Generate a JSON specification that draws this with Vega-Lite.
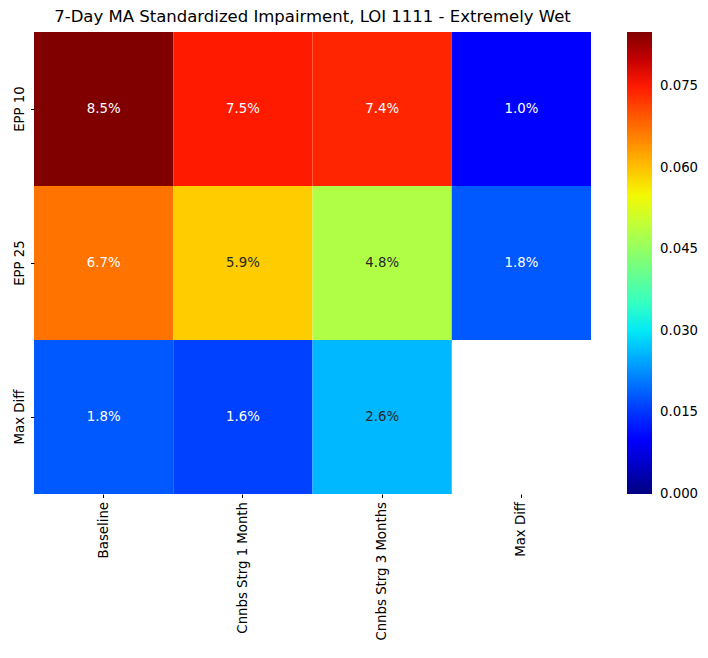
{
  "$schema": "https://vega.github.io/schema/vega-lite/v6.json",
  "width": 557,
  "height": 462,
  "autosize": {"type": "none"},
  "padding": {"left": 34, "top": 32, "right": 117, "bottom": 164},
  "background": "white",
  "title": {
    "text": "7-Day MA Standardized Impairment, LOI 1111 - Extremely Wet",
    "font": "DejaVu Sans",
    "fontSize": 16.5,
    "fontWeight": "normal",
    "color": "black",
    "anchor": "middle",
    "offset": 7
  },
  "data": {
    "values": [
      {"row": "EPP 10", "col": "Baseline", "v": 0.085},
      {"row": "EPP 10", "col": "Cnnbs Strg 1 Month", "v": 0.075},
      {"row": "EPP 10", "col": "Cnnbs Strg 3 Months", "v": 0.074},
      {"row": "EPP 10", "col": "Max Diff", "v": 0.010},
      {"row": "EPP 25", "col": "Baseline", "v": 0.067},
      {"row": "EPP 25", "col": "Cnnbs Strg 1 Month", "v": 0.059},
      {"row": "EPP 25", "col": "Cnnbs Strg 3 Months", "v": 0.048},
      {"row": "EPP 25", "col": "Max Diff", "v": 0.018},
      {"row": "Max Diff", "col": "Baseline", "v": 0.018},
      {"row": "Max Diff", "col": "Cnnbs Strg 1 Month", "v": 0.016},
      {"row": "Max Diff", "col": "Cnnbs Strg 3 Months", "v": 0.026}
    ]
  },
  "encoding": {
    "x": {
      "field": "col",
      "type": "nominal",
      "sort": ["Baseline", "Cnnbs Strg 1 Month", "Cnnbs Strg 3 Months", "Max Diff"],
      "scale": {"domain": ["Baseline", "Cnnbs Strg 1 Month", "Cnnbs Strg 3 Months", "Max Diff"], "paddingInner": 0, "paddingOuter": 0},
      "axis": {"title": null, "labelAngle": -90, "domain": false, "tickColor": "black", "tickSize": 3.5, "labelPadding": 4}
    },
    "y": {
      "field": "row",
      "type": "nominal",
      "scale": {"domain": ["EPP 10", "EPP 25", "Max Diff"], "paddingInner": 0, "paddingOuter": 0},
      "axis": {"title": null, "labelAngle": -90, "labelAlign": "center", "labelBaseline": "bottom", "domain": false, "tickColor": "black", "tickSize": 3.5, "labelPadding": 4}
    }
  },
  "layer": [
    {
      "mark": {"type": "rect"},
      "encoding": {
        "color": {
          "field": "v",
          "type": "quantitative",
          "scale": {
            "type": "linear",
            "domain": [0, 0.00935, 0.010625, 0.0289, 0.02975, 0.031875, 0.0544, 0.05525, 0.0561, 0.07565, 0.07735, 0.085],
            "range": ["#000080", "#0000ff", "#0000ff", "#00dbff", "#00e6f7", "#15ffe2", "#eeff08", "#f7f500", "#ffec00", "#ff1300", "#e80000", "#800000"],
            "interpolate": "rgb"
          },
          "legend": {
            "title": null,
            "direction": "vertical",
            "gradientLength": 462,
            "gradientThickness": 25,
            "gradientStrokeWidth": 0,
            "values": [0, 0.015, 0.03, 0.045, 0.06, 0.075],
            "format": ".3f",
            "offset": 36,
            "labelFont": "DejaVu Sans",
            "labelFontSize": 13.3,
            "labelColor": "black",
            "labelOffset": 8,
            "tickCount": 6,
            "encode": {"labels": {"update": {"baseline": {"value": "middle"}}}}
          }
        }
      }
    },
    {
      "mark": {"type": "text", "font": "DejaVu Sans", "fontSize": 13.3},
      "encoding": {
        "text": {"field": "v", "type": "quantitative", "format": ".1%"},
        "color": {
          "condition": {"test": "datum.v > 0.022 && datum.v < 0.063", "value": "#262626"},
          "value": "white"
        }
      }
    }
  ],
  "config": {
    "view": {"stroke": null},
    "axis": {"labelFont": "DejaVu Sans", "labelFontSize": 13.3, "labelColor": "black", "grid": false}
  }
}
